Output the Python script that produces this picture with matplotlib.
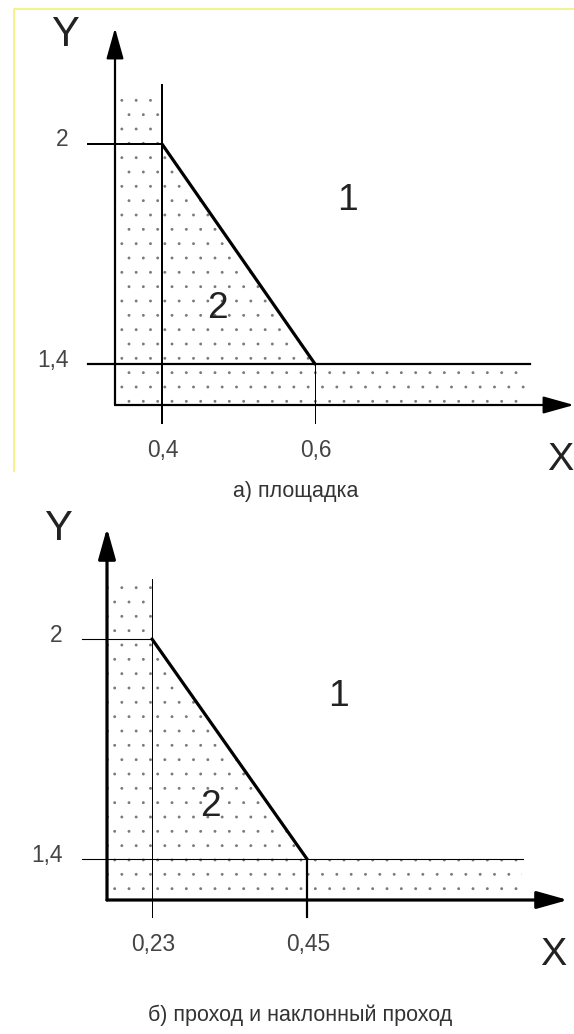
import numpy as np
import matplotlib.pyplot as plt
from matplotlib.patches import Polygon

W, H = 574, 1034
DPI = 86

# а) площадка
xa = [0.4, 0.6]
ya = [1.4, 2.0]
xlab_a = ['0,4', '0,6']
# б) проход и наклонный проход
xb = [0.23, 0.45]
yb = [1.4, 2.0]
xlab_b = ['0,23', '0,45']
ylab = ['1,4', '2']
zones = ['1', '2']
captions = ['а) площадка', 'б) проход и наклонный проход']

plt.rcParams['hatch.linewidth'] = 0.0
fig = plt.figure(figsize=(W / DPI, H / DPI), dpi=DPI)
fig.patch.set_facecolor('white')

PX = 72.0 / DPI  # one pixel in points


def make_axes(xt, yt, pxx, pxy):
    # axes over the whole figure, limits picked so ticks land on pxx / pxy
    ax = fig.add_axes([0, 0, 1, 1])
    ax.patch.set_alpha(0)
    sx = (pxx[1] - pxx[0]) / (xt[1] - xt[0])
    sy = (pxy[0] - pxy[1]) / (yt[1] - yt[0])
    ax.set_xlim(xt[0] - pxx[0] / sx, xt[0] + (W - pxx[0]) / sx)
    ax.set_ylim(yt[0] + (pxy[0] - H) / sy, yt[0] + pxy[0] / sy)
    ax.axis('off')
    fx = lambda c: xt[0] + (c - pxx[0]) / sx
    fy = lambda r: yt[0] + (pxy[0] - r) / sy
    return ax, fx, fy


def panel(xt, yt, xlabels, lay):
    ax, fx, fy = make_axes(xt, yt, lay['pxx'], lay['pxy'])
    x0, y0 = fx(lay['origin'][0]), fy(lay['origin'][1])
    xl, xr = fx(lay['hleft']), fx(lay['hright'])

    # dotted zone
    zone = [(x0, fy(lay['dtop'])), (xt[0], fy(lay['dtop'])), (xt[0], yt[1]),
            (xt[1], yt[0]), (fx(lay['dright']), yt[0]),
            (fx(lay['dright']), y0), (x0, y0)]
    ax.add_patch(Polygon(zone, closed=True, facecolor='none', edgecolor='#7a7a7a',
                         lw=0, hatch='.'))

    # guide lines
    ax.plot([xl, xt[0]], [yt[1], yt[1]], color='k', lw=lay['lw_y2'] * PX)
    ax.plot([xl, xr], [yt[0], yt[0]], color='k', lw=lay['lw_y1'] * PX)
    ax.plot([xt[0], xt[0]], [fy(lay['vtop']), fy(lay['vbot'])], color='k',
            lw=lay['lw_x1'] * PX)
    ax.plot([xt[1], xt[1]], [yt[0], fy(lay['vbot'])], color='k',
            lw=lay['lw_x2'] * PX)
    # boundary between zones
    ax.plot([xt[0], xt[1]], [yt[1], yt[0]], color='k', lw=3.2 * PX,
            solid_capstyle='round')

    # axes with arrows
    st = '-|>,head_length=1.0,head_width=0.28'
    ax.annotate('', xy=(fx(lay['xend']), y0), xytext=(x0, y0),
                arrowprops=dict(arrowstyle=st, color='k', lw=lay['lw_ax'] * PX,
                                shrinkA=0, shrinkB=0, mutation_scale=22))
    ax.annotate('', xy=(x0, fy(lay['yend'])), xytext=(x0, y0),
                arrowprops=dict(arrowstyle=st, color='k', lw=lay['lw_ax'] * PX,
                                shrinkA=0, shrinkB=0, mutation_scale=22))

    tfont = dict(family=['Liberation Sans Narrow', 'Liberation Sans'],
                 color='#444444', fontsize=19)
    for x, s in zip(xt, xlabels):
        ax.text(x + fx(1) - fx(0), fy(lay['xlab_y']), s, ha='center', va='center',
                **tfont)
    for y, s in zip(yt, ylab):
        ax.text(fx(lay['ylab_x']), y - (fy(4) - fy(0)), s, ha='right', va='center',
                **tfont)

    big = dict(family=['Liberation Sans', 'DejaVu Sans'], color='#222222')
    ax.text(fx(lay['Y'][0]), fy(lay['Y'][1]), 'Y', ha='center', va='center',
            fontsize=35, **big)
    ax.text(fx(lay['X'][0]), fy(lay['X'][1]), 'X', ha='center', va='center',
            fontsize=33, **big)
    ax.text(fx(lay['z1'][0]), fy(lay['z1'][1]), zones[0], ha='center', va='center',
            fontsize=31, **big)
    ax.text(fx(lay['z2'][0]), fy(lay['z2'][1]), zones[1], ha='center', va='center',
            fontsize=31, **big)
    return ax, fx, fy


lay_a = dict(pxx=(162, 315), pxy=(364, 144), origin=(115, 405),
             hleft=88, hright=530, dtop=88, dright=526,
             vtop=85, vbot=423, xend=574, yend=28,
             lw_y2=2, lw_y1=2.2, lw_x1=2, lw_x2=1, lw_ax=2.2,
             xlab_y=451, ylab_x=69, Y=(65, 35), X=(560, 460),
             z1=(347, 201), z2=(217, 309))
lay_b = dict(pxx=(152, 307), pxy=(859, 639), origin=(107, 900),
             hleft=82, hright=523, dtop=582, dright=522,
             vtop=579, vbot=917, xend=568, yend=528,
             lw_y2=1.1, lw_y1=1.1, lw_x1=1, lw_x2=2.2, lw_ax=3.2,
             xlab_y=944, ylab_x=63, Y=(58, 529), X=(553, 955),
             z1=(338, 696), z2=(210, 806))

ax_a, fxa, fya = panel(xa, ya, xlab_a, lay_a)
ax_b, fxb, fyb = panel(xb, yb, xlab_b, lay_b)

# yellow frame around the first drawing
ax_a.plot([fxa(14), fxa(14), fxa(574)], [fya(472), fya(9), fya(9)],
          color='#f4f48c', lw=2 * PX, solid_capstyle='butt')

cfont = dict(family=['Liberation Sans', 'DejaVu Sans'], color='#333333',
             fontsize=18, ha='center', va='center')
fig.text(296 / W, 1 - 491 / H, captions[0], **cfont)
fig.text(300 / W, 1 - 1015 / H, captions[1], **cfont)

fig.savefig('out.png', dpi=DPI, facecolor='white')
